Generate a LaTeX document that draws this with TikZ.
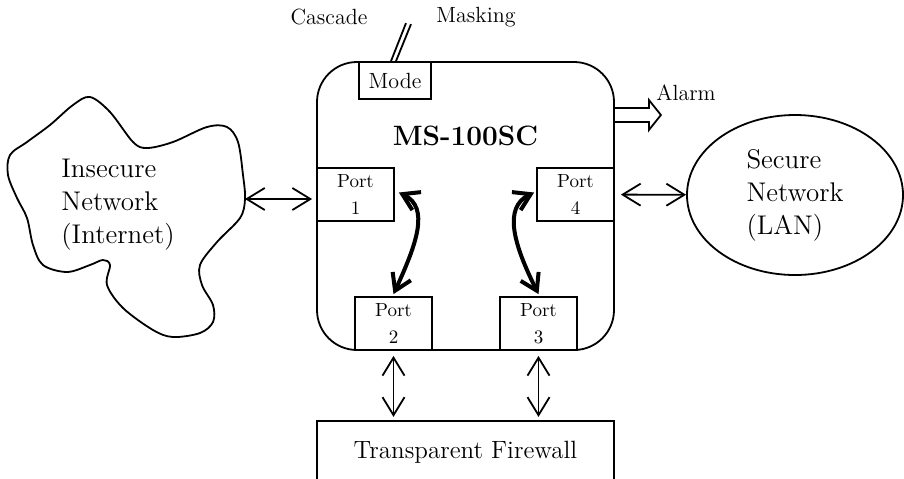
\documentclass[tikz,border=0pt]{standalone}
\usepackage{tikz}
\usetikzlibrary{arrows.meta,calc,positioning,shapes.geometric}
\tikzset{
  outline/.style={draw, line width=0.9pt},
  chassis/.style={outline, rounded corners=20pt, minimum width=148.5pt,
    minimum height=144pt, inner sep=0pt},
  boxed/.style={outline, fill=white, inner sep=0pt, align=center},
  port/.style={boxed, minimum width=38.5pt, minimum height=26.5pt,
    font=\fontsize{9.5}{13.5}\selectfont},
  mode box/.style={boxed, minimum width=36pt, minimum height=18.5pt,
    font=\fontsize{11}{13}\selectfont},
  firewall/.style={boxed, minimum width=148.5pt, minimum height=31pt,
    font=\fontsize{12.5}{15}\selectfont},
  net text/.style={align=left, inner sep=0pt,
    font=\fontsize{13.5}{16.5}\selectfont},
  lan/.style={ellipse, outline, minimum width=108pt, minimum height=80pt,
    inner sep=0pt, align=left, font=\fontsize{13.5}{16.5}\selectfont},
  small label/.style={inner sep=0pt, font=\fontsize{11}{13}\selectfont},
  title/.style={inner sep=0pt, font=\fontsize{14}{16}\selectfont\bfseries},
  link/.style={{Straight Barb[length=9pt,width=11pt]}-{Straight Barb[length=9pt,width=11pt]},
    line width=0.9pt},
  bridge/.style={{Straight Barb[length=8pt,width=10pt]}-{Straight Barb[length=8pt,width=10pt]},
    line width=2pt}
}

\begin{document}
\begin{tikzpicture}[x=0.5pt, y=-0.5pt]
  \useasboundingbox (0,0) rectangle (904,478);

  \node[chassis] (unit) at (465.5,206) {};
  \node[title] (name) at ([yshift=-37.5pt]unit.north) {MS-100SC};
  \node[mode box, anchor=north west] (mode) at ([xshift=21pt]unit.north west) {Mode};
  \node[port, anchor=north west] (p1) at ([yshift=-53pt]unit.north west) {Port\\1};
  \node[port, anchor=north east] (p4) at ([yshift=-53pt]unit.north east) {Port\\4};
  \node[port, anchor=south west] (p2) at ([xshift=19pt]unit.south west) {Port\\2};
  \node[port, anchor=south east] (p3) at ([xshift=-18.5pt]unit.south east) {Port\\3};
  \node[firewall, anchor=north] (fw) at ([yshift=-34.5pt]unit.south) {Transparent Firewall};

  % mode switch
  \node[small label] (cascade) at (329,17) {Cascade};
  \node[small label] (masking) at (476,17) {Masking};
  \draw[outline] ([xshift=-2pt]mode.north) -- ++(15,-38);
  \draw[outline] ([xshift=0.5pt]mode.north) -- ++(15,-37);

  % alarm output
  \coordinate (alarm) at ([yshift=45.5pt]unit.east);
  \draw[outline] (alarm) ++(0,-7) -- ++(34,0) -- ++(0,-8) -- ++(12,15)
    -- ++(-12,15) -- ++(0,-8) -- ++(-34,0);
  \node[small label, anchor=west] (alarmtext) at (656,93) {Alarm};

  % insecure side
  \draw[outline] plot[smooth cycle, tension=0.55] coordinates {
    (90,97) (110,112) (133,142) (147,148) (173,142) (207,127) (227,127)
    (238,142) (243,175) (245,199) (240,218) (217,242) (200,265) (202,285)
    (213,305) (213,322) (200,333) (173,337) (153,330) (123,308) (107,285)
    (110,265) (103,260) (90,265) (67,272) (43,265) (33,245) (27,218)
    (17,198) (8,175) (10,155) (27,142) (50,125) (73,105)};
  \node[net text] (inet) at (118,205) {Insecure\\Network\\(Internet)};
  \coordinate (inetport) at (245,199);

  % secure side
  \node[lan] (lan) at (795,195) {Secure\\Network\\(LAN)};

  \draw[link, shorten >=2pt] (inetport) -- (inetport -| p1.west);
  \draw[link, shorten <=3pt] (p4) -- (lan);
  \draw[link, shorten <=2.5pt, shorten >=1.5pt] (p2.south) -- (p2.south |- fw.north);
  \draw[link, shorten <=2.5pt, shorten >=1.5pt] (p3.south) -- (p3.south |- fw.north);

  \draw[bridge] ([xshift=2pt,yshift=1pt]p1.east) .. controls +(31,15) and +(23,-50) .. ([yshift=1pt]p2.north);
  \draw[bridge] ([xshift=-1pt,yshift=1pt]p4.west) .. controls +(-31,15) and +(-25,-50) .. ([yshift=1pt]p3.north);
\end{tikzpicture}
\end{document}
